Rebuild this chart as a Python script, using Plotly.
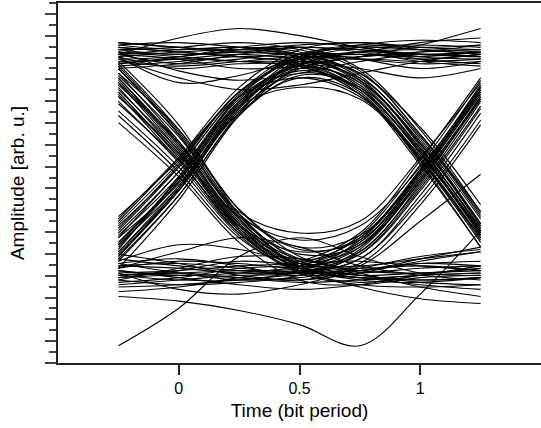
import plotly.graph_objects as go

# Sample instants (in bit periods) at which every trace is recorded
t_samples = [-0.25, 0.0, 0.25, 0.5, 0.75, 1.0, 1.25]

# Recorded traces, grouped by the three-bit pattern they carry
traces_111 = [
    [0.98, 0.96, 0.97, 0.99, 0.98, 0.96, 0.97],
    [0.93, 0.91, 0.93, 0.95, 0.94, 0.92, 0.93],
    [1.01, 0.99, 0.98, 1.00, 1.01, 0.99, 1.00],
    [0.95, 0.84, 0.87, 0.94, 0.96, 0.94, 0.96],
    [0.96, 1.03, 1.07, 1.04, 0.99, 0.96, 0.95],
    [0.97, 0.95, 0.93, 0.92, 0.95, 1.00, 1.07],
    [0.94, 0.86, 0.81, 0.83, 0.88, 0.93, 0.96],
    [0.99, 0.97, 0.95, 0.93, 0.90, 0.86, 0.90],
    [0.90, 0.92, 0.96, 0.99, 0.97, 0.93, 0.91],
    [0.96, 0.94, 0.90, 0.91, 0.95, 0.97, 0.98],
    [1.00, 1.01, 0.99, 0.96, 0.97, 1.01, 1.03],
    [0.92, 0.95, 0.99, 1.01, 0.99, 0.95, 0.94],
    [0.97, 0.89, 0.85, 0.88, 0.93, 0.96, 0.95],
]
traces_000 = [
    [0.02, 0.03, 0.01, -0.01, 0.00, 0.02, 0.03],
    [0.06, 0.07, 0.05, 0.03, 0.04, 0.07, 0.06],
    [-0.03, -0.02, 0.00, 0.02, 0.01, -0.02, -0.04],
    [0.08, 0.15, 0.13, 0.07, 0.04, 0.09, 0.14],
    [-0.28, -0.12, 0.10, 0.18, 0.10, 0.03, 0.02],
    [0.03, -0.04, -0.06, -0.02, 0.04, 0.06, 0.04],
    [0.00, 0.05, 0.10, 0.09, 0.03, -0.03, -0.07],
    [0.11, 0.07, 0.02, 0.00, 0.03, 0.08, 0.12],
    [0.04, 0.01, -0.02, -0.04, -0.02, 0.02, 0.05],
    [0.01, 0.04, 0.08, 0.06, 0.02, 0.00, 0.01],
    [0.07, 0.03, 0.00, 0.01, 0.05, 0.10, 0.13],
    [-0.05, -0.03, 0.01, 0.04, 0.02, -0.01, -0.02],
    [0.05, 0.12, 0.18, 0.14, 0.06, 0.02, 0.00],
]
traces_100 = [
    [0.85, 0.56, 0.22, 0.05, 0.01, 0.02, 0.03],
    [0.80, 0.52, 0.20, 0.04, 0.03, 0.05, 0.06],
    [0.90, 0.62, 0.26, 0.06, 0.00, -0.01, 0.01],
    [0.72, 0.48, 0.19, 0.03, -0.02, -0.03, -0.02],
    [0.88, 0.64, 0.30, 0.10, 0.04, 0.03, 0.05],
    [0.78, 0.54, 0.23, 0.07, 0.06, 0.09, 0.12],
    [0.93, 0.66, 0.28, 0.05, -0.03, -0.08, -0.10],
    [0.67, 0.44, 0.16, 0.00, -0.02, 0.01, 0.02],
    [0.84, 0.59, 0.27, 0.09, 0.08, 0.06, 0.04],
    [0.86, 0.58, 0.24, 0.06, 0.02, 0.03, 0.04],
    [0.75, 0.51, 0.21, 0.05, 0.01, 0.00, 0.01],
    [0.91, 0.63, 0.28, 0.08, 0.05, 0.07, 0.08],
    [0.81, 0.55, 0.23, 0.04, -0.01, 0.02, 0.06],
]
traces_011 = [
    [0.15, 0.43, 0.76, 0.93, 0.97, 0.96, 0.97],
    [0.20, 0.46, 0.78, 0.95, 0.99, 0.98, 0.96],
    [0.10, 0.38, 0.72, 0.90, 0.95, 0.96, 0.95],
    [0.25, 0.52, 0.82, 0.98, 1.01, 0.99, 0.98],
    [0.18, 0.41, 0.74, 0.94, 1.00, 1.02, 1.01],
    [0.13, 0.44, 0.78, 0.96, 0.98, 0.94, 0.92],
    [0.22, 0.49, 0.80, 0.94, 0.95, 0.97, 1.00],
    [0.05, 0.34, 0.70, 0.91, 0.97, 0.98, 0.97],
    [0.27, 0.51, 0.80, 0.96, 0.94, 0.90, 0.93],
    [0.16, 0.42, 0.75, 0.95, 1.00, 0.98, 0.96],
    [0.12, 0.39, 0.73, 0.93, 0.99, 1.00, 0.99],
    [0.23, 0.48, 0.79, 0.95, 0.96, 0.95, 0.97],
    [0.09, 0.36, 0.71, 0.92, 0.94, 0.93, 0.94],
]
traces_110 = [
    [0.97, 0.96, 0.97, 0.95, 0.84, 0.56, 0.22],
    [0.93, 0.94, 0.96, 0.93, 0.81, 0.52, 0.17],
    [1.00, 0.98, 0.99, 0.97, 0.87, 0.60, 0.26],
    [0.95, 0.90, 0.92, 0.91, 0.79, 0.49, 0.14],
    [0.98, 0.99, 1.01, 0.98, 0.89, 0.62, 0.28],
    [0.91, 0.93, 0.95, 0.94, 0.82, 0.54, 0.19],
    [0.96, 0.92, 0.94, 0.96, 0.86, 0.57, 0.21],
    [0.99, 0.97, 0.95, 0.92, 0.79, 0.51, 0.18],
    [0.94, 0.95, 0.98, 0.99, 0.90, 0.64, 0.29],
    [0.96, 0.98, 0.99, 0.96, 0.85, 0.59, 0.24],
    [0.92, 0.94, 0.93, 0.92, 0.81, 0.55, 0.20],
    [1.01, 0.99, 0.97, 0.95, 0.85, 0.58, 0.23],
    [0.95, 0.97, 0.98, 0.96, 0.88, 0.65, 0.32],
]
traces_001 = [
    [0.02, 0.03, 0.04, 0.05, 0.15, 0.43, 0.78],
    [0.06, 0.05, 0.03, 0.04, 0.17, 0.46, 0.82],
    [-0.02, 0.00, 0.02, 0.03, 0.11, 0.39, 0.74],
    [0.05, 0.08, 0.07, 0.06, 0.19, 0.49, 0.85],
    [0.00, -0.02, -0.01, 0.02, 0.13, 0.42, 0.77],
    [0.09, 0.06, 0.04, 0.03, 0.09, 0.34, 0.68],
    [0.03, 0.04, 0.06, 0.08, 0.20, 0.51, 0.86],
    [-0.07, -0.09, -0.13, -0.19, -0.28, -0.06, 0.21],
    [0.01, 0.02, 0.01, 0.00, 0.06, 0.25, 0.45],
    [0.04, 0.02, 0.03, 0.06, 0.16, 0.44, 0.80],
    [-0.01, 0.01, 0.05, 0.07, 0.18, 0.47, 0.83],
    [0.07, 0.09, 0.06, 0.02, 0.12, 0.40, 0.76],
    [0.02, 0.00, 0.00, 0.04, 0.14, 0.45, 0.81],
]
traces_101 = [
    [0.86, 0.57, 0.24, 0.08, 0.14, 0.43, 0.78],
    [0.82, 0.54, 0.27, 0.17, 0.23, 0.48, 0.82],
    [0.90, 0.62, 0.29, 0.20, 0.25, 0.52, 0.84],
    [0.76, 0.50, 0.20, 0.06, 0.11, 0.38, 0.73],
    [0.88, 0.59, 0.25, 0.09, 0.16, 0.46, 0.81],
    [0.70, 0.46, 0.18, 0.05, 0.09, 0.36, 0.71],
    [0.92, 0.64, 0.30, 0.13, 0.17, 0.45, 0.79],
    [0.84, 0.55, 0.21, 0.04, 0.07, 0.32, 0.66],
    [0.79, 0.51, 0.23, 0.12, 0.18, 0.47, 0.83],
    [0.83, 0.58, 0.26, 0.11, 0.15, 0.42, 0.77],
    [0.87, 0.61, 0.28, 0.14, 0.19, 0.46, 0.80],
    [0.78, 0.53, 0.22, 0.07, 0.12, 0.41, 0.78],
]
traces_010 = [
    [0.14, 0.42, 0.75, 0.89, 0.81, 0.54, 0.20],
    [0.18, 0.46, 0.74, 0.82, 0.77, 0.52, 0.18],
    [0.10, 0.39, 0.71, 0.86, 0.79, 0.51, 0.16],
    [0.24, 0.50, 0.80, 0.93, 0.85, 0.58, 0.24],
    [0.16, 0.43, 0.76, 0.91, 0.86, 0.61, 0.27],
    [0.21, 0.48, 0.78, 0.90, 0.80, 0.50, 0.14],
    [0.08, 0.36, 0.70, 0.87, 0.82, 0.56, 0.22],
    [0.26, 0.52, 0.78, 0.86, 0.78, 0.53, 0.21],
    [0.12, 0.40, 0.73, 0.92, 0.88, 0.62, 0.29],
    [0.15, 0.40, 0.74, 0.90, 0.84, 0.58, 0.23],
    [0.19, 0.44, 0.77, 0.91, 0.83, 0.55, 0.19],
    [0.11, 0.38, 0.72, 0.88, 0.81, 0.54, 0.20],
]

x_ticks = [0, 0.5, 1]
x_tick_labels = ["0", "0.5", "1"]

# Amplitude window and tick spacing (arbitrary units)
y_lo, y_hi = -0.3532, 1.1787
y_minor_step = (y_hi - y_lo) / 33

fig = go.Figure()
for group in (traces_111, traces_000, traces_100, traces_011,
              traces_110, traces_001, traces_101, traces_010):
    for trace in group:
        fig.add_trace(go.Scatter(
            x=t_samples, y=trace, mode="lines",
            line=dict(color="black", width=1.1, shape="spline", smoothing=1.0),
            showlegend=False, hoverinfo="skip",
        ))

axis_font = dict(family="Liberation Sans, Arial, sans-serif", color="black")

fig.update_layout(
    width=541, height=428,
    margin=dict(l=58, r=0, t=3, b=65),
    paper_bgcolor="white", plot_bgcolor="white",
    font=axis_font,
    xaxis=dict(
        range=[-0.5, 1.5],
        tickvals=x_ticks, ticktext=x_tick_labels,
        ticks="outside", ticklen=10, tickwidth=1.5, tickcolor="#222",
        tickfont=dict(size=16),
        showgrid=False, zeroline=False,
        showline=True, linecolor="#222", linewidth=1.5, mirror=True,
        title=dict(text="Time (bit period)", font=dict(size=19), standoff=8),
    ),
    yaxis=dict(
        range=[y_lo, y_hi],
        tick0=y_lo, dtick=2 * y_minor_step,
        ticks="outside", ticklen=11, tickwidth=1.5, tickcolor="#444",
        showticklabels=False,
        minor=dict(ticks="outside", ticklen=7, tickwidth=1.5, tickcolor="#444",
                   tick0=y_lo, dtick=y_minor_step),
        showgrid=False, zeroline=False,
        showline=True, linecolor="#222", linewidth=1.5, mirror=False,
        title=dict(text="Amplitude [arb. u.]", font=dict(size=19), standoff=16),
    ),
)

fig.write_html("out.html")
